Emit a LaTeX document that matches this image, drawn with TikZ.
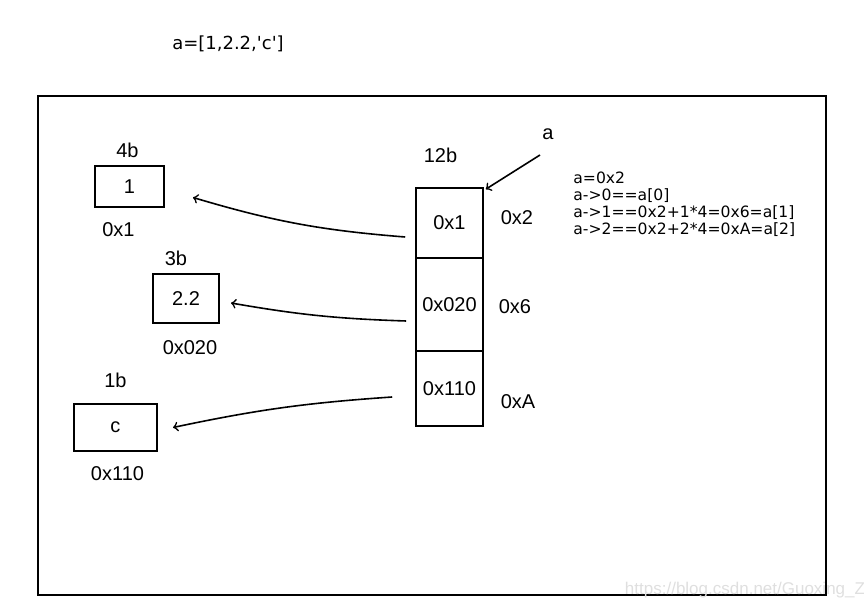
\documentclass[tikz,border=0pt]{standalone}
\usepackage{fontspec}
\setmainfont{Liberation Sans}
\newfontfamily\typedfont{DejaVu Sans}
\begin{document}
\begin{tikzpicture}[x=0.5pt,y=-0.5pt,
  cell/.style={rectangle,draw=black,line width=1pt,inner sep=0pt},
  hand/.style={font=\fontsize{10}{12}\selectfont},
  typed/.style={font=\typedfont\fontsize{7.8}{8.4}\selectfont}]
\useasboundingbox (0,0) rectangle (864,609);
% Title and frame
\node[typed,font=\typedfont\fontsize{9}{10}\selectfont] (title) at (228,44) {a=[1,2.2,'c']};
\draw[line width=1pt] (38,96) rectangle (826,595);
% Set left
\draw (129.5,186.5) node(b4)[cell,minimum width=34.5pt,minimum height=20.5pt,hand] {1} +(-2,-36) node(n4)[hand] {4b} +(-11,43) node(p4)[hand] {0x1};
\draw (186,298.5) node(b3)[cell,minimum width=33pt,minimum height=24.5pt,hand] {2.2} +(-10,-40) node(n3)[hand] {3b} +(4,49) node(p3)[hand] {0x020};
\draw (115.5,427.5) node(b1)[cell,minimum width=41.5pt,minimum height=23.5pt,hand] {c} +(0,-47) node(n1)[hand] {1b} +(2,46) node(p1)[hand] {0x110};
% Set array
\draw (449.5,223) node(c1)[cell,line width=0.8pt,minimum width=33.5pt,minimum height=35pt,hand] {0x1} +(-9,-68) node(n12)[hand] {12b} +(67.5,-5) node(q1)[hand] {0x2};
\draw (449.5,304.5) node(c2)[cell,line width=0.8pt,minimum width=33.5pt,minimum height=46.5pt,hand] {0x020} +(65.5,2.5) node(q2)[hand] {0x6};
\draw (449.5,388.5) node(c3)[cell,line width=0.8pt,minimum width=33.5pt,minimum height=37.5pt,hand] {0x110} +(68.5,13.5) node(q3)[hand] {0xA};
\draw (548,134) node(a)[hand] {a};
% Notes
\node[typed,anchor=north west,align=left,inner sep=0pt] (notes) at (573,172) {a=0x2\\a-{}>0==a[0]\\a-{}>1==0x2+1*4=0x6=a[1]\\a-{}>2==0x2+2*4=0xA=a[2]};
\node[font=\fontsize{8.5}{10}\selectfont,text=gray!25] (mark) at (745,590) {https://blog.csdn.net/Guoxing\_Z};
% Arrows
\draw[->,line width=0.8pt] ([shift={(-10,14)}]c1.west) to[bend left=6] ([shift={(28,11)}]b4.east);
\draw[->,line width=0.8pt] ([shift={(-9,16.5)}]c2.west) to[bend left=4] ([shift={(11,4.5)}]b3.east);
\draw[->,line width=0.8pt] ([shift={(-23,8.5)}]c3.west) to[bend right=4] ([shift={(15,0)}]b1.east);
\draw[->,line width=0.8pt] ([shift={(-8,21)}]a.center) -- ([shift={(2,2)}]c1.north east);
\end{tikzpicture}
\end{document}
